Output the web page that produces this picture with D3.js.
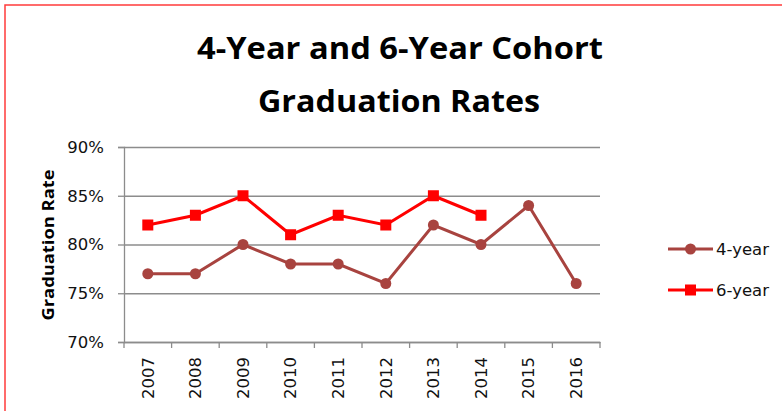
<!DOCTYPE html>
<html>
<head>
<meta charset="utf-8">
<script src="https://cdn.jsdelivr.net/npm/d3@7"></script>
<style>
	body { margin: 0; background: #fff; }
	svg { display: block; }
	.tick text { font-family: 'DejaVu Sans', sans-serif; font-size: 16.5px; fill: #111; }
</style>
</head>
<body>
<svg id="chart"></svg>
<script>
const years = ['2007', '2008', '2009', '2010', '2011', '2012', '2013', '2014', '2015', '2016']
const fourYear = [77, 77, 80, 78, 78, 76, 82, 80, 84, 76]
const sixYear = [82, 83, 85, 81, 83, 82, 85, 83, null, null]
const yTicks = [70, 75, 80, 85, 90]

function drawChart() {
	const width = 782
	const height = 411

	const margin = {
		top: 147,
		right: 182,
		bottom: 69,
		left: 124
	}

	const svg = d3.select('#chart').attr('width', width).attr('height', height)

	// red frame, runs off the right and bottom edges
	svg
		.append('rect')
		.attr('x', 5)
		.attr('y', 5)
		.attr('width', width + 20)
		.attr('height', height + 20)
		.attr('fill', 'none')
		.attr('stroke', '#ff3b3b')
		.attr('stroke-width', 1.5)

	const xScale = d3
		.scaleBand()
		.domain(years)
		.range([margin.left, width - margin.right])
		.padding(0)
	const yScale = d3.scaleLinear().domain([70, 90]).range([height - margin.bottom, margin.top])

	// gridlines
	svg
		.append('g')
		.attr('transform', `translate(${margin.left},0)`)
		.call(d3.axisLeft(yScale).tickValues(yTicks).tickSize(-(width - margin.right - margin.left)).tickFormat(''))
		.call(g => g.select('.domain').remove())
		.selectAll('line')
		.attr('stroke', '#8c8c8c')
		.attr('stroke-width', 1.3)

	// y axis
	svg
		.append('g')
		.attr('transform', `translate(${margin.left},0)`)
		.call(d3.axisLeft(yScale).tickValues(yTicks).tickSize(6).tickPadding(14).tickFormat(d => d + '%'))
		.call(g => g.selectAll('.domain, line').attr('stroke', '#8c8c8c').attr('stroke-width', 1.3))

	// x axis: labels at centres, ticks at band edges
	const xAxis = svg
		.append('g')
		.attr('transform', `translate(0,${height - margin.bottom})`)
		.call(d3.axisBottom(xScale).tickSize(0).tickSizeOuter(0))
	xAxis.select('.domain').attr('stroke', '#8c8c8c').attr('stroke-width', 1.3)
	xAxis
		.selectAll('.tick text')
		.attr('transform', 'rotate(-90)')
		.attr('text-anchor', 'end')
		.attr('x', -15)
		.attr('y', 0)
		.attr('dy', '0.35em')
	const edges = years.map(d => xScale(d)).concat([xScale.range()[1]])
	xAxis
		.selectAll('.edge')
		.data(edges)
		.join('line')
		.attr('x1', d => d)
		.attr('x2', d => d)
		.attr('y1', 0)
		.attr('y2', 6)
		.attr('stroke', '#8c8c8c')
		.attr('stroke-width', 1.3)

	const cx = d => xScale(d) + xScale.bandwidth() / 2

	const series = [
		{ name: '4-year', values: fourYear, color: '#a8433f', marker: 'circle' },
		{ name: '6-year', values: sixYear, color: '#ff0000', marker: 'square' }
	]

	series.forEach(s => {
		const pts = years.map((y, i) => ({ year: y, value: s.values[i] })).filter(d => d.value != null)

		svg
			.append('path')
			.datum(pts)
			.attr('fill', 'none')
			.attr('stroke', s.color)
			.attr('stroke-width', 3)
			.attr(
				'd',
				d3
					.line()
					.x(d => cx(d.year))
					.y(d => yScale(d.value))
			)

		if (s.marker === 'circle') {
			svg
				.append('g')
				.selectAll('circle')
				.data(pts)
				.join('circle')
				.attr('cx', d => cx(d.year))
				.attr('cy', d => yScale(d.value))
				.attr('r', 5.5)
				.attr('fill', s.color)
		} else {
			svg
				.append('g')
				.selectAll('rect')
				.data(pts)
				.join('rect')
				.attr('x', d => cx(d.year) - 5.5)
				.attr('y', d => yScale(d.value) - 5.5)
				.attr('width', 11)
				.attr('height', 11)
				.attr('fill', s.color)
		}
	})

	// legend
	const legend = svg
		.append('g')
		.selectAll('g')
		.data(series)
		.join('g')
		.attr('transform', (d, i) => `translate(668,${249 + i * 41})`)
	legend
		.append('line')
		.attr('x1', 0)
		.attr('x2', 45)
		.attr('stroke', d => d.color)
		.attr('stroke-width', 3)
	legend
		.filter(d => d.marker === 'circle')
		.append('circle')
		.attr('cx', 22.5)
		.attr('r', 5.5)
		.attr('fill', d => d.color)
	legend
		.filter(d => d.marker === 'square')
		.append('rect')
		.attr('x', 17)
		.attr('y', -5.5)
		.attr('width', 11)
		.attr('height', 11)
		.attr('fill', d => d.color)
	legend
		.append('text')
		.attr('x', 48)
		.attr('dy', '0.35em')
		.attr('font-family', "'DejaVu Sans', sans-serif")
		.attr('font-size', 16.5)
		.attr('fill', '#111')
		.text(d => d.name)

	// y axis title
	svg
		.append('text')
		.attr('transform', 'translate(54,245) rotate(-90)')
		.attr('text-anchor', 'middle')
		.attr('font-family', "'Open Sans', sans-serif")
		.attr('font-weight', 'bold')
		.attr('font-size', 16)
		.attr('textLength', 151)
		.attr('lengthAdjust', 'spacingAndGlyphs')
		.text('Graduation Rate')

	// chart title
	const title = svg
		.append('g')
		.attr('font-family', "'Open Sans', sans-serif")
		.attr('font-weight', 'bold')
		.attr('font-size', 31)
		.attr('text-anchor', 'middle')
	title
		.append('text')
		.attr('x', 400)
		.attr('y', 59)
		.attr('textLength', 406)
		.attr('lengthAdjust', 'spacingAndGlyphs')
		.text('4-Year and 6-Year Cohort')
	title
		.append('text')
		.attr('x', 399)
		.attr('y', 112)
		.attr('textLength', 282)
		.attr('lengthAdjust', 'spacingAndGlyphs')
		.text('Graduation Rates')
}

drawChart()
</script>
</body>
</html>
